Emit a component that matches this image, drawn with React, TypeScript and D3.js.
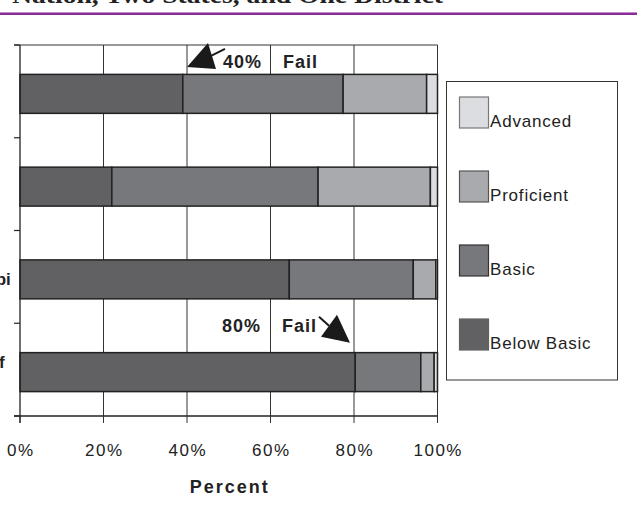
import React from "react";
import * as d3 from "d3";

const categories = ["Nation", "Iowa", "Mississippi", "District of Columbia"];
const categoryLines = [["Nation"], ["Iowa"], ["Mississippi"], ["District of", "Columbia"]];
const levels = ["Below Basic", "Basic", "Proficient", "Advanced"];
const belowBasic = [39, 22, 64.5, 80.3];
const basic = [38.4, 49.4, 29.7, 15.7];
const proficient = [20, 26.9, 5.4, 3.2];
const advanced = [2.6, 1.7, 0.4, 0.8];
const xTicks = [0, 0.2, 0.4, 0.6, 0.8, 1];
const legendOrder = ["Advanced", "Proficient", "Basic", "Below Basic"];
const annotations = [
  { cat: "Nation", pct: 0.4, label: "40%", word: "Fail" },
  { cat: "District of Columbia", pct: 0.8, label: "80%", word: "Fail" },
];

const fills: Record<string, string> = {
  "Below Basic": "#616163",
  Basic: "#77787c",
  Proficient: "#a9aaae",
  Advanced: "#dcdde0",
};
const swatchStroke: Record<string, string> = {
  "Below Basic": "#616163",
  Basic: "#333",
  Proficient: "#555",
  Advanced: "#777",
};

export default function App() {
  const W = 637, H = 517;
  const left = 20, right = 437.5, top = 45, bottom = 416;
  const x = d3.scaleLinear().domain([0, 1]).range([left, right]);
  const yb = d3.scaleBand<string>().domain(categories).range([top, bottom]).paddingInner(0.58).paddingOuter(0.29);
  const yStep = d3.scaleBand<string>().domain(categories).range([top, bottom]);
  const barShift = 2.5;

  const rows = categories.map((c, i) => ({
    cat: c,
    "Below Basic": belowBasic[i] / 100,
    Basic: basic[i] / 100,
    Proficient: proficient[i] / 100,
    Advanced: advanced[i] / 100,
  }));
  const series = d3.stack<any>().keys(levels)(rows);
  const sans = "'Liberation Sans', Arial, sans-serif";
  const boundaries = categories.map((c) => yStep(c)!).concat([bottom]);

  return (
    <svg width={W} height={H} style={{ position: "absolute", left: 0, top: 0, background: "#fff" }} fontFamily={sans}>
      <rect width={W} height={H} fill="#fff" />
      <text x={12} y={2.5} fontFamily="'Liberation Serif', 'Times New Roman', serif" fontWeight="bold" fontSize={24}
        textLength={431} lengthAdjust="spacingAndGlyphs" fill="#222">Nation, Two States, and One District</text>
      <rect x={0} y={12} width={W} height={1} fill="#b98fc4" />
      <rect x={0} y={13} width={W} height={2} fill="#8b2a99" />

      {/* gridlines */}
      {xTicks.slice(1).map((t) => (
        <line key={t} x1={x(t)} x2={x(t)} y1={top} y2={bottom} stroke="#333" strokeWidth={1} />
      ))}
      <line x1={14} x2={right} y1={top} y2={top} stroke="#333" strokeWidth={1} />

      {/* bars */}
      {series.map((s) => (
        <g key={s.key}>
          {s.map((d, i) => (
            <rect key={i} x={x(d[0])} y={yb(categories[i])! + barShift} width={x(d[1]) - x(d[0])}
              height={yb.bandwidth()} fill={fills[s.key]} stroke="#222" strokeWidth={1.5} />
          ))}
        </g>
      ))}

      {/* axes */}
      <line x1={left} x2={left} y1={top} y2={bottom + 7} stroke="#222" strokeWidth={1.3} />
      <line x1={14} x2={right} y1={bottom} y2={bottom} stroke="#222" strokeWidth={1.3} />
      {boundaries.map((b, i) => (
        <line key={i} x1={14} x2={left} y1={b} y2={b} stroke="#222" strokeWidth={1.2} />
      ))}
      {xTicks.map((t) => (
        <g key={t}>
          <line x1={x(t)} x2={x(t)} y1={bottom} y2={bottom + 7} stroke="#333" strokeWidth={1} />
          <text x={x(t) + 0.75} y={456} textAnchor="middle" fontSize={17} letterSpacing={1.5} fill="#222">
            {d3.format(".0%")(t)}
          </text>
        </g>
      ))}
      <text x={(left + right) / 2 + 1} y={493} textAnchor="middle" fontSize={18} fontWeight="bold" letterSpacing={2} fill="#222">
        Percent
      </text>

      {/* category labels (cut off at the left edge, as in the source) */}
      {categoryLines.map((lines, i) => {
        const cy = yb(categories[i])! + barShift + yb.bandwidth() / 2;
        const lh = 20;
        const y0 = cy - ((lines.length - 1) * lh) / 2 + 6;
        return (
          <text key={i} textAnchor="middle" fontSize={17} fontWeight="bold" fill="#222">
            {lines.map((l, j) => (
              <tspan key={j} x={j === 0 ? -35 : -44} y={y0 + j * lh}>{l}</tspan>
            ))}
          </text>
        );
      })}

      {/* annotations */}
      {annotations.map((a, i) => {
        const barTop = yb(a.cat)! + barShift;
        if (i === 0) {
          const tx = x(a.pct), ty = barTop - 7.5;
          const by = barTop - 6;
          return (
            <g key={i}>
              <path d={`M${tx},${ty} L${tx + 21},${ty - 24} L${tx + 29},${ty + 2} Z`} fill="#1a1a1a" />
              <line x1={tx + 24} y1={ty - 11} x2={tx + 38} y2={ty - 18} stroke="#1a1a1a" strokeWidth={2} />
              <text x={x(a.pct) + 36} y={by} fontSize={18} fontWeight="bold" letterSpacing={1} fill="#222">{a.label}</text>
              <text x={x(0.6) + 12.5} y={by} fontSize={18} fontWeight="bold" letterSpacing={1} fill="#222">{a.word}</text>
            </g>
          );
        }
        const tx = x(a.pct) - 4, ty = barTop - 10;
        const by = barTop - 21;
        return (
          <g key={i}>
            <path d={`M${tx},${ty} L${tx - 13},${ty - 28} L${tx - 29},${ty - 6} Z`} fill="#1a1a1a" />
            <line x1={tx - 21} y1={ty - 17} x2={tx - 31} y2={ty - 26} stroke="#1a1a1a" strokeWidth={2} />
            <text x={x(0.4) + 35} y={by} fontSize={18} fontWeight="bold" letterSpacing={1} fill="#222">{a.label}</text>
            <text x={x(0.6) + 11.5} y={by} fontSize={18} fontWeight="bold" letterSpacing={1} fill="#222">{a.word}</text>
          </g>
        );
      })}

      {/* legend */}
      <rect x={446.5} y={81.5} width={171} height={298.5} fill="#fff" stroke="#333" strokeWidth={1} />
      {legendOrder.map((k, i) => {
        const sy = 97 + i * 74;
        return (
          <g key={k}>
            <rect x={459.5} y={sy} width={29} height={31} fill={fills[k]} stroke={swatchStroke[k]} strokeWidth={1.2} />
            <text x={490} y={sy + 30} fontSize={17} letterSpacing={0.8} fill="#222">{k}</text>
          </g>
        );
      })}
    </svg>
  );
}
